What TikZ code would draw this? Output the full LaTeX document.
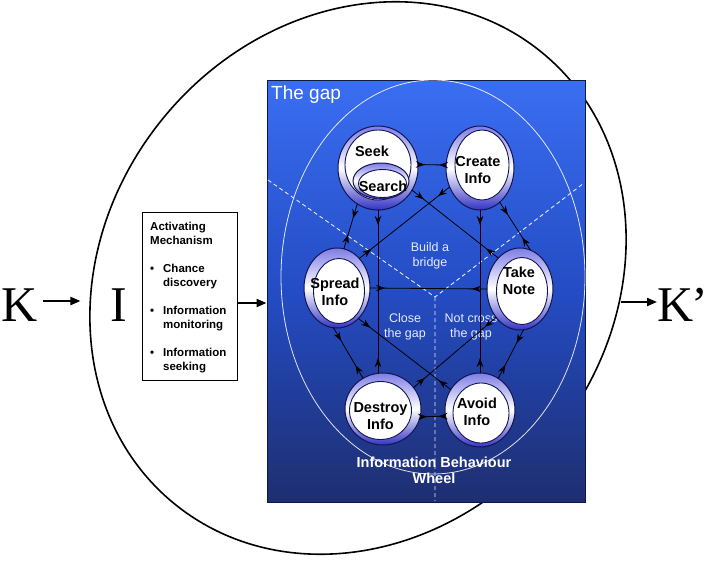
\documentclass[tikz,border=0pt]{standalone}
\usepackage{fontspec}
\setmainfont{Liberation Sans}
\newfontfamily\serifK{Liberation Serif}
\usetikzlibrary{shapes.geometric,arrows.meta,decorations.markings,calc}
\definecolor{rectTop}{RGB}{58,110,242}
\definecolor{rectMid}{RGB}{36,76,196}
\definecolor{rectBot}{RGB}{30,46,112}
\definecolor{rectEdge}{RGB}{15,25,70}
\definecolor{ringTop}{RGB}{125,125,230}
\definecolor{ringBot}{RGB}{50,50,196}
\definecolor{ringEdge}{RGB}{20,20,80}
\definecolor{softwhite}{RGB}{228,234,255}
\begin{document}
\begin{tikzpicture}[x=1pt,y=-1pt,
  ring/.style n args={3}{ellipse, draw=ringEdge, line width=1pt, inner sep=0pt, outer sep=0pt,
    top color=ringTop, bottom color=ringBot, middle color=white,
    path picture={\draw[fill=white, line width=0.9pt]
      let \p1=(path picture bounding box.north east), \p2=(path picture bounding box.south west) in
      ($(\p1)!0.5!(\p2)+(#1,#2)$) ellipse [x radius={(\x1-\x2)/2-#3}, y radius={(\y1-\y2)/2-#3}];}},
  lbl/.style={font=\fontsize{14.5}{17}\selectfont\bfseries, align=center, inner sep=0pt, text=black},
  wlbl/.style={font=\fontsize{12.5}{15}\selectfont, align=center, inner sep=0pt, text=softwhite},
  wbold/.style={font=\fontsize{14.5}{16}\selectfont\bfseries, align=center, inner sep=0pt, text=white},
  conn/.style={line width=0.8pt, postaction={decorate},
    decoration={markings,
      mark=at position #1 with {\arrow{Stealth[length=9pt,width=6.5pt]}},
      mark=at position -#1 with {\arrowreversed{Stealth[length=9pt,width=6.5pt]}}}},
  conn/.default=15pt,
  bigarrow/.style={line width=2pt, -{Triangle[length=10pt,width=8pt]}},
  bigletter/.style={font=\serifK\fontsize{50}{50}\selectfont, inner sep=0pt}
]
\useasboundingbox (0,0) rectangle (710,560);

% outer (knowledge) ellipse
\draw[line width=1.6pt, rotate around={51:(358,278)}] (358,278) ellipse [x radius=291pt, y radius=252pt];

% K, I, K'
\node[bigletter] (K) at (20,305) {K};
\node[bigletter] (I) at (119,305) {I};
\node[bigletter, anchor=west] (Kp) at (657,305) {K\kern-2pt’};

% activating mechanism box
\node[draw=black, line width=0.8pt, fill=white, minimum width=95pt, minimum height=168pt, inner sep=0pt] (am) at (189.5,296) {};
\node[anchor=north west, align=left, inner sep=0pt, font=\fontsize{11.5}{13.5}\selectfont\bfseries] (amT) at (150,222)
 {Activating\\Mechanism\\[15pt]\makebox[13pt][l]{•}Chance\\\hspace*{13pt}discovery\\[15pt]\makebox[13pt][l]{•}Information\\\hspace*{13pt}monitoring\\[15pt]\makebox[13pt][l]{•}Information\\\hspace*{13pt}seeking};

% the gap rectangle
\node[draw=rectEdge, line width=1pt, top color=rectTop, bottom color=rectBot, middle color=rectMid,
      minimum width=318pt, minimum height=422pt, inner sep=0pt] (gap) at (426,291) {};
\node[text=white, font=\fontsize{19}{22}\selectfont, anchor=west, inner sep=0pt] (gaplbl) at (271,95) {The gap};

% wheel ellipse and dashed sectors
\draw[white, line width=0.8pt, opacity=0.85] (433,277) ellipse [x radius=152pt, y radius=197pt];
\coordinate (hub) at (435,297);
\coordinate (dl) at (268,180);
\coordinate (dr) at (584,183);
\coordinate (db) at (435,501);
\draw[softwhite, line width=0.9pt, dash pattern=on 4pt off 3pt] (dl) -- (hub) -- (dr) (hub) -- (db);

% sector labels
\node[wlbl] (bridge) at (430,256) {Build a\\bridge};
\node[wlbl] (close) at (405,327) {Close\\the gap};
\node[wlbl] (notcross) at (471,327) {Not cross\\the gap};
\node[wbold] (ibw) at (434,470) {Information Behaviour\\Wheel};

% behaviour nodes
\node[ring={0pt}{3pt}{7pt}, minimum width=80pt, minimum height=84pt] (seek) at (378,168) {};
\node[ring={1.5pt}{-2.5pt}{4pt}, minimum width=56pt, minimum height=36pt] (search) at (381,181) {};
\node[ring={2pt}{3pt}{7pt}, minimum width=68pt, minimum height=84pt] (create) at (480,168) {};
\node[ring={2pt}{-3pt}{7.5pt}, minimum width=66pt, minimum height=80pt] (spread) at (337,288) {};
\node[ring={2pt}{-2pt}{7.5pt}, minimum width=66pt, minimum height=82pt] (take) at (520,289) {};
\node[ring={-2.5pt}{-1.5pt}{7pt}, minimum width=76pt, minimum height=72pt] (destroy) at (383,409) {};
\node[ring={1pt}{-3pt}{7pt}, minimum width=70pt, minimum height=74pt] (avoid) at (480,410) {};

\node[lbl] (seekT) at (372,151) {Seek};
\node[lbl] (searchT) at (383,186) {Search};
\node[lbl] (createT) at (478,170) {Create\\Info};
\node[lbl] (spreadT) at (335,292) {Spread\\Info};
\node[lbl] (takeT) at (519,281) {Take\\Note};
\node[lbl] (destroyT) at (380.5,416) {Destroy\\Info};
\node[lbl] (avoidT) at (477,412) {Avoid\\Info};

% connectors between behaviours
\draw[conn=7pt] (seek.5) -- (create.175);
\draw[conn] (seek.240) -- (spread.80);
\draw[conn] (seek.south) -- (seek.south |- destroy.north);
\draw[conn] (seek.-33) -- (take.125);
\draw[conn] (create.212) -- (spread.53);
\draw[conn] (create.south) -- (create.south |- avoid.north);
\draw[conn] (create.-60) -- (take.75);
\draw[conn] (spread.east) -- (take.west);
\draw[conn] (spread.-95) -- (destroy.123);
\draw[conn] (spread.-55) -- (avoid.145);
\draw[conn] (take.230) -- (destroy.35);
\draw[conn] (take.-85) -- (avoid.60);
\draw[conn=7pt] (destroy.-12) -- (avoid.190);

% main flow arrows
\coordinate (ellR) at (621,302);
\draw[bigarrow, shorten <=5pt, shorten >=30pt] ([yshift=4pt]K.east) -- ([yshift=4pt]I.west);
\draw[bigarrow] ([yshift=-7pt]am.east) -- ([yshift=-7pt]am.east -| gap.west);
\draw[bigarrow] (ellR) -- (Kp.west |- ellR);
\end{tikzpicture}
\end{document}
